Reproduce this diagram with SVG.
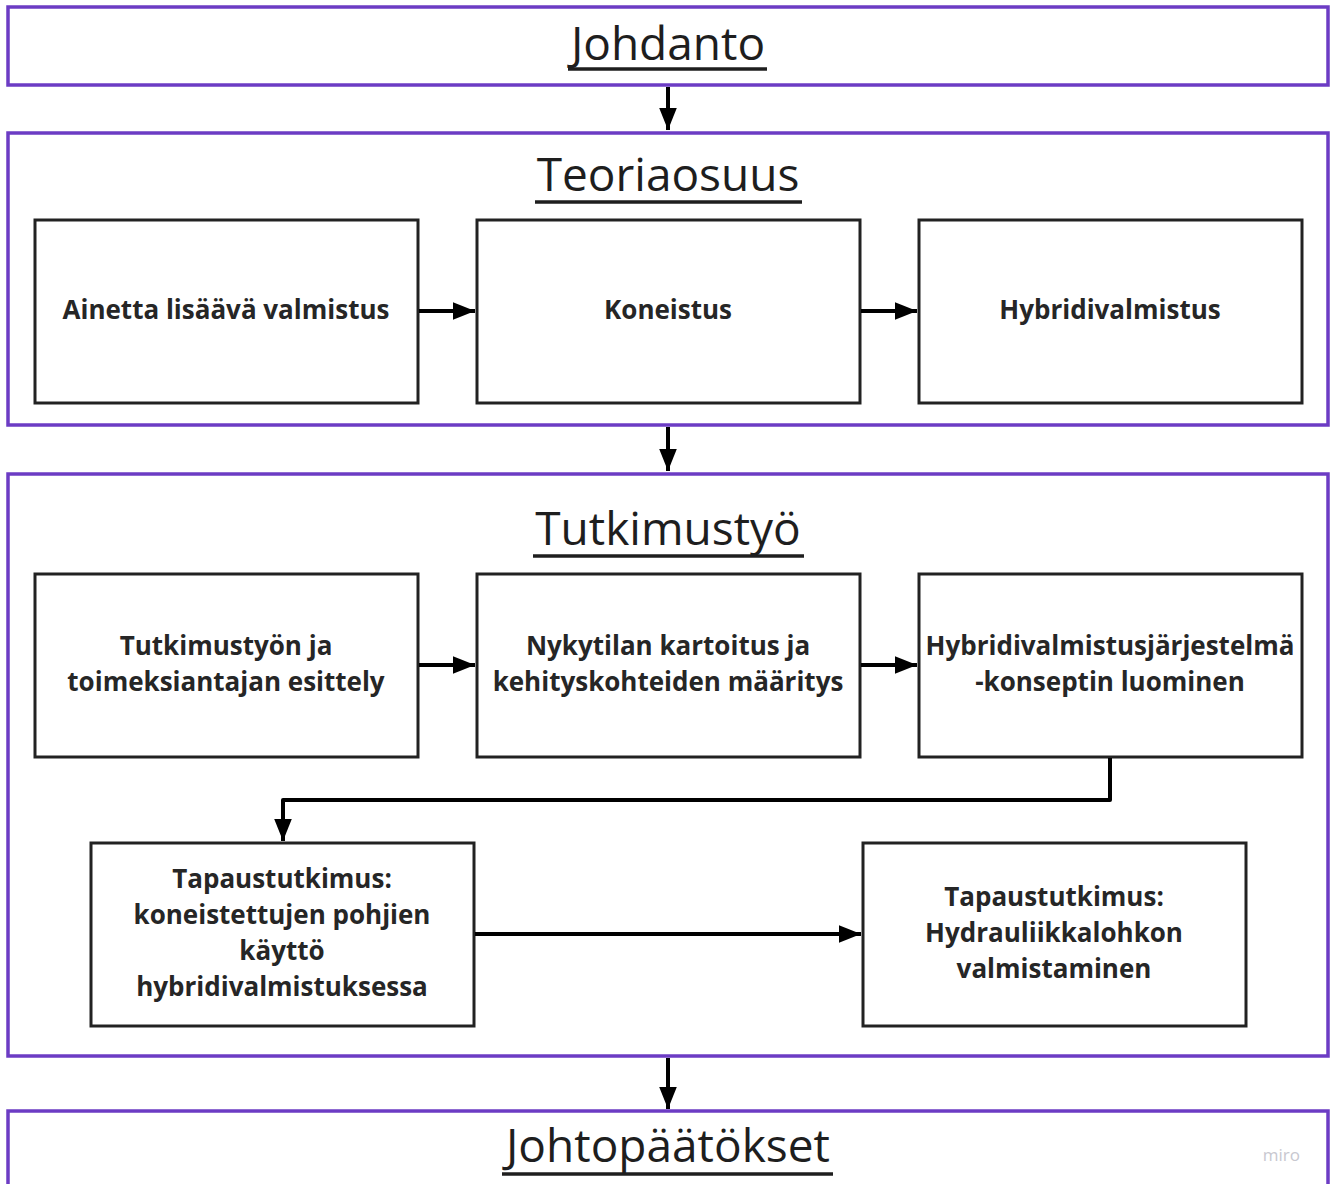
<svg xmlns="http://www.w3.org/2000/svg" width="1335" height="1184" viewBox="0 0 1335 1184">
<defs>
<style>
.sec{fill:#fff;stroke:#6c3cc4;stroke-width:3.5}
.box{fill:#fff;stroke:#222;stroke-width:3}
.title{font-family:"Open Sans","Liberation Sans",sans-serif;font-size:46px;fill:#1e1e1e;text-anchor:middle}
.ul{stroke:#1e1e1e;stroke-width:3.5}
.lbl{font-family:"Open Sans","Liberation Sans",sans-serif;font-size:26px;font-weight:700;fill:#262626;text-anchor:middle}
.con{fill:none;stroke:#000;stroke-width:4;stroke-linejoin:round}
</style>
<marker id="ah" viewBox="0 0 10 8" refX="10" refY="4" markerWidth="5.5" markerHeight="4.4" markerUnits="strokeWidth" orient="auto">
<path d="M0,0 L10,4 L0,8 z" fill="#000"/>
</marker>
</defs>
<rect width="1335" height="1184" fill="#fff"/>
<g id="johdanto">
<rect class="sec" x="8" y="7" width="1320" height="78"/>
<text class="title" x="668" y="60">Johdanto</text>
<line class="ul" x1="568" y1="69" x2="767" y2="69"/>
</g>
<g id="teoriaosuus">
<rect class="sec" x="8" y="133" width="1320" height="292"/>
<text class="title" x="668" y="191">Teoriaosuus</text>
<line class="ul" x1="535" y1="202" x2="802" y2="202"/>
</g>
<g id="tutkimustyo">
<rect class="sec" x="8" y="474" width="1320" height="582"/>
<text class="title" x="668" y="545">Tutkimustyö</text>
<line class="ul" x1="533" y1="556" x2="804" y2="556"/>
</g>
<g id="johtopaatokset">
<rect class="sec" x="8" y="1111" width="1320" height="90"/>
<text class="title" x="668" y="1162">Johtopäätökset</text>
<line class="ul" x1="502" y1="1174" x2="833" y2="1174"/>
<text x="1300" y="1161" font-family="Open Sans, Liberation Sans, sans-serif" font-size="17" fill="#c8c8d0" text-anchor="end">miro</text>
</g>
<g id="ainetta">
<rect class="box" x="35" y="220" width="383" height="183"/>
<text class="lbl" x="226" y="319">Ainetta lisäävä valmistus</text>
</g>
<g id="koneistus">
<rect class="box" x="477" y="220" width="383" height="183"/>
<text class="lbl" x="668" y="319">Koneistus</text>
</g>
<g id="hybridivalmistus">
<rect class="box" x="919" y="220" width="383" height="183"/>
<text class="lbl" x="1110" y="319">Hybridivalmistus</text>
</g>
<g id="esittely">
<rect class="box" x="35" y="574" width="383" height="183"/>
<text class="lbl" x="226" y="655">Tutkimustyön ja</text>
<text class="lbl" x="226" y="691">toimeksiantajan esittely</text>
</g>
<g id="nykytila">
<rect class="box" x="477" y="574" width="383" height="183"/>
<text class="lbl" x="668" y="655">Nykytilan kartoitus ja</text>
<text class="lbl" x="668" y="691">kehityskohteiden määritys</text>
</g>
<g id="konsepti">
<rect class="box" x="919" y="574" width="383" height="183"/>
<text class="lbl" x="1110" y="655">Hybridivalmistusjärjestelmä</text>
<text class="lbl" x="1110" y="691">-konseptin luominen</text>
</g>
<g id="tapaus1">
<rect class="box" x="91" y="843" width="383" height="183"/>
<text class="lbl" x="282" y="888">Tapaustutkimus:</text>
<text class="lbl" x="282" y="924">koneistettujen pohjien</text>
<text class="lbl" x="282" y="960">käyttö</text>
<text class="lbl" x="282" y="996">hybridivalmistuksessa</text>
</g>
<g id="tapaus2">
<rect class="box" x="863" y="843" width="383" height="183"/>
<text class="lbl" x="1054" y="906">Tapaustutkimus:</text>
<text class="lbl" x="1054" y="942">Hydrauliikkalohkon</text>
<text class="lbl" x="1054" y="978">valmistaminen</text>
</g>
<g id="connectors">
<line class="con" x1="668" y1="87" x2="668" y2="130" marker-end="url(#ah)"/>
<line class="con" x1="668" y1="427" x2="668" y2="471" marker-end="url(#ah)"/>
<line class="con" x1="668" y1="1058" x2="668" y2="1109" marker-end="url(#ah)"/>
<line class="con" x1="419" y1="311" x2="475" y2="311" marker-end="url(#ah)"/>
<line class="con" x1="861" y1="311" x2="917" y2="311" marker-end="url(#ah)"/>
<line class="con" x1="419" y1="665" x2="475" y2="665" marker-end="url(#ah)"/>
<line class="con" x1="861" y1="665" x2="917" y2="665" marker-end="url(#ah)"/>
<path class="con" d="M1110,758 L1110,800 L283,800 L283,841" marker-end="url(#ah)"/>
<line class="con" x1="475" y1="934" x2="861" y2="934" marker-end="url(#ah)"/>
</g>
</svg>
